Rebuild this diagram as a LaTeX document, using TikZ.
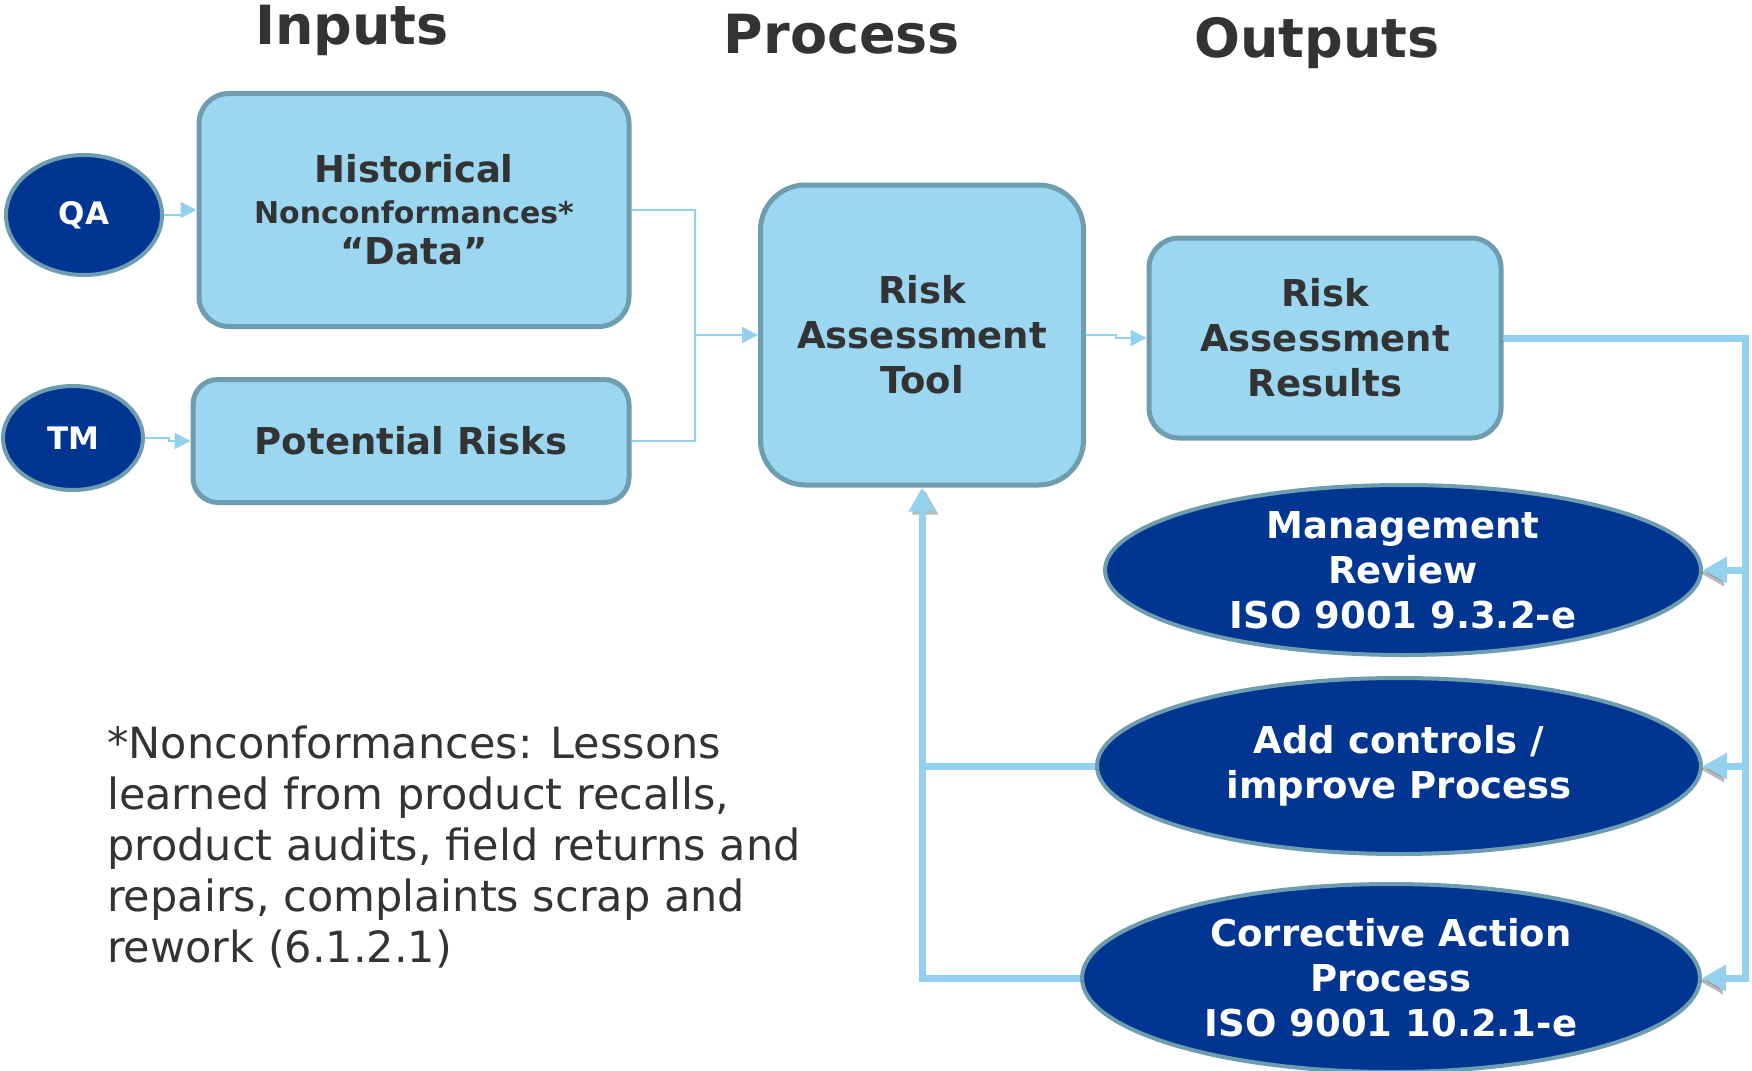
\documentclass[tikz,border=0pt]{standalone}
\usepackage{fontspec}
\setmainfont{DejaVu Sans}
\usetikzlibrary{positioning,shapes.geometric,arrows.meta}
\definecolor{skyish}{HTML}{9BD7F0}
\definecolor{rimish}{HTML}{6F9DB0}
\definecolor{navyish}{HTML}{003591}
\definecolor{wireish}{HTML}{92D2EE}
\definecolor{inkish}{HTML}{333333}

\begin{document}
\begin{tikzpicture}[x=1pt,y=-1pt,
   every node/.append style={align=center},
   heading/.style={font=\bfseries\fontsize{54}{60}\selectfont, text=inkish, anchor=base},
   stagebox/.style={draw=rimish, line width=5pt, fill=skyish, rounded corners=#1, text=inkish,
      font=\bfseries\fontsize{37}{45}\selectfont, inner sep=0pt},
   stagebox/.default=30pt,
   oval/.style={ellipse, draw=rimish, line width=4pt, fill=navyish, text=white,
      inner xsep=0pt, inner ysep=-8pt, font=\bfseries\fontsize{37}{45}\selectfont},
   thinwire/.style={draw=wireish, line width=2.5pt},
   thinarrow/.style={thinwire, -{Triangle[length=16pt,width=16pt]}},
   thickwire/.style={draw=wireish, line width=7pt,
      preaction={draw=black!60, opacity=.45, transform canvas={shift={(#1,-3pt)}}}},
   thickwire/.default=0pt,
   thickarrow/.style={thickwire=#1, -{Triangle[length=24pt,width=25pt]}}
]
\useasboundingbox[fill=white] (0,0) rectangle (1752,1070);

\node[heading] (inputs) at (352,45) {Inputs};
\node[heading] (process) at (842,54) {Process};
\node[heading] (outputs) at (1317,58) {Outputs};

\node[stagebox, minimum width=430pt, minimum height=233pt, font=\bfseries\fontsize{37}{41}\selectfont] (hist) at (414,210)
   {Historical\\{\fontsize{30}{41}\selectfont Nonconformances*}\\``Data''};
\node[stagebox=25pt, minimum width=436pt, minimum height=123pt] (pot) at (411,441) {Potential Risks};
\node[stagebox=45pt, minimum width=323pt, minimum height=300pt] (rat) at (922,335) {Risk\\Assessment\\Tool};
\node[stagebox, minimum width=352pt, minimum height=200pt] (rar) at (1325,338) {Risk\\Assessment\\Results};

\node[oval, minimum width=156pt, minimum height=120pt, font=\bfseries\fontsize{31}{34}\selectfont] (qa) at (84,215) {QA};
\node[oval, minimum width=140pt, minimum height=104pt, font=\bfseries\fontsize{31}{34}\selectfont] (tm) at (73,438) {TM};
\node[oval, minimum width=596pt, minimum height=170pt] (mr) at (1403,570) {Management\\Review\\ISO 9001 9.3.2-e};
\node[oval, minimum width=604pt, minimum height=176pt] (ac) at (1399,766) {Add controls /\\improve Process};
\node[oval, minimum width=618pt, minimum height=188pt] (ca) at (1391,978) {Corrective Action\\Process\\ISO 9001 10.2.1-e};

\node[anchor=north west, align=left, text=inkish, inner sep=0pt,
   font=\fontsize{43}{51}\selectfont] (note) at (107,726)
   {*Nonconformances: Lessons\\learned from product recalls,\\product audits, field returns and\\repairs, complaints scrap and\\rework (6.1.2.1)};

\coordinate (merge) at (695,335);
\coordinate (rail) at (1745,338);

\draw[thinarrow] (qa.east) -- ++(18,0) |- (hist.west);
\draw[thinarrow] (tm.east) -- ++(24,0) |- (pot.west);
\draw[thinwire] (hist.east) -| (merge) |- (pot.east);
\draw[thinarrow] (merge) -- (rat.west);
\draw[thinarrow] (rat.east) -- ++(30,0) |- (rar.west);

\draw[thickarrow=-3pt] (rar.east) -- (rail) |- (ca.east);
\draw[thickarrow=-3pt] (mr.east -| rail) -- (mr.east);
\draw[thickarrow=-3pt] (ac.east -| rail) -- (ac.east);
\draw[thickarrow=3pt] (ca.west) -| (rat.south);
\draw[thickwire=3pt] (ac.west) -- (ac.west -| rat.south);
\end{tikzpicture}
\end{document}
